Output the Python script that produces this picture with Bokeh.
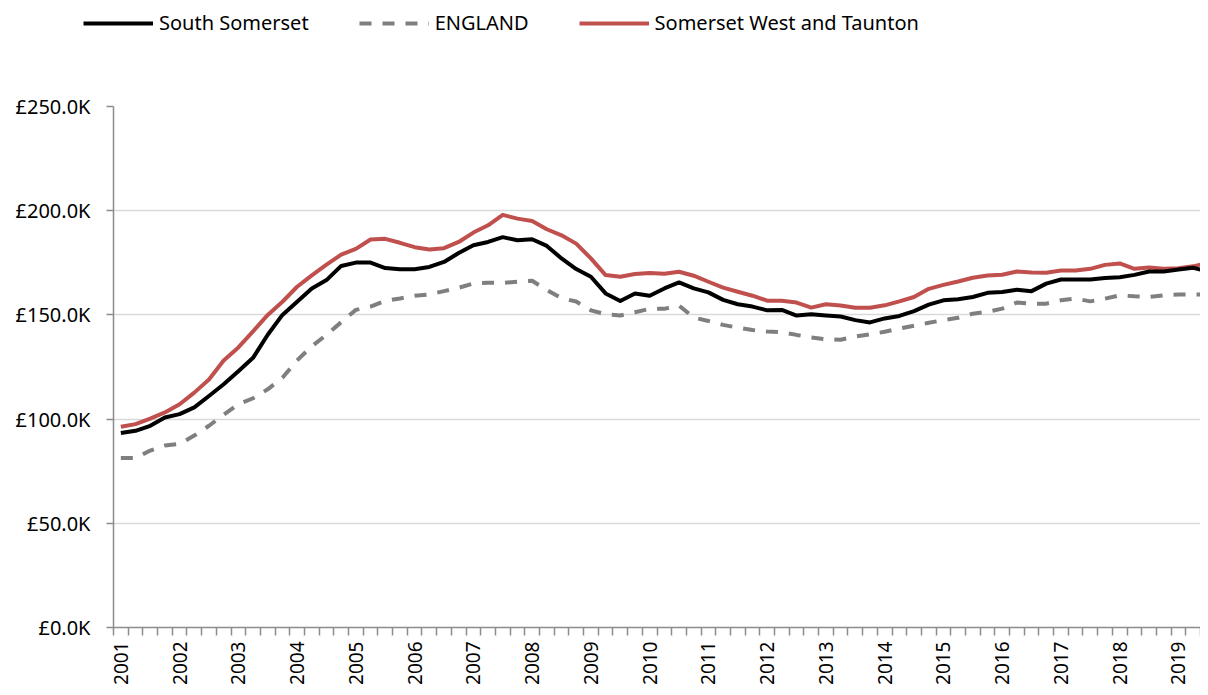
from bokeh.plotting import figure
from bokeh.models import (ColumnDataSource, Range1d, FixedTicker, Legend, LegendItem)
from bokeh.layouts import column
from bokeh.embed import file_html
from bokeh.resources import INLINE

# ---- data (quarterly, 2001 Q1 .. 2019 Q3), values in £K ----
years = [str(y) for y in range(2001, 2020)]

south_somerset = [
    93.3, 94.4, 96.8, 100.8, 102.4, 105.6, 111.1, 116.7, 123.0, 129.4,
    140.5, 150.0, 156.3, 162.7, 166.7, 173.5, 175.1, 175.1, 172.5, 171.9,
    171.9, 173.0, 175.4, 179.7, 183.4, 185.0, 187.3, 185.8, 186.3, 183.1,
    177.1, 172.0, 168.3, 160.3, 156.7, 160.3, 159.2, 162.7, 165.6, 162.7,
    160.8, 157.2, 155.1, 154.0, 152.2, 152.4, 149.7, 150.3, 149.7, 149.2,
    147.5, 146.4, 148.3, 149.5, 151.8, 154.9, 157.0, 157.5, 158.6, 160.6,
    161.0, 162.1, 161.4, 165.0, 167.0, 167.0, 167.0, 167.7, 168.1, 169.2,
    170.8, 170.8, 171.8, 172.6, 170.8,
]

england = [
    81.3, 81.3, 84.9, 87.3, 88.1, 92.1, 96.8, 102.1, 107.1, 110.0,
    114.3, 119.8, 128.2, 134.9, 140.5, 146.5, 152.4, 154.0, 156.7, 157.9,
    159.2, 159.8, 161.4, 163.0, 165.1, 165.4, 165.4, 165.9, 166.4, 161.9,
    158.0, 156.4, 152.2, 150.3, 149.7, 151.3, 152.9, 152.9, 154.5, 148.7,
    147.1, 145.2, 143.9, 142.8, 142.0, 141.7, 140.4, 139.2, 138.3, 138.1,
    139.6, 140.7, 141.9, 143.5, 144.8, 146.2, 147.5, 148.6, 150.6, 151.5,
    153.0, 155.9, 155.4, 155.4, 157.0, 157.8, 156.5, 157.8, 159.4, 158.9,
    158.6, 159.4, 159.8, 159.8, 159.7,
]

somerset_west_taunton = [
    96.3, 97.6, 100.2, 103.2, 107.1, 112.7, 119.0, 128.1, 134.4, 142.1,
    150.0, 156.3, 163.5, 169.0, 174.1, 178.9, 181.7, 186.2, 186.5, 184.6,
    182.5, 181.4, 182.0, 185.0, 189.5, 193.0, 198.0, 196.2, 195.1, 191.1,
    188.2, 184.2, 177.1, 169.1, 168.3, 169.6, 170.1, 169.7, 170.7, 168.8,
    165.9, 163.1, 161.1, 159.2, 156.8, 156.8, 155.9, 153.5, 155.1, 154.5,
    153.4, 153.4, 154.6, 156.5, 158.6, 162.5, 164.4, 166.0, 167.8, 168.9,
    169.3, 170.8, 170.3, 170.2, 171.3, 171.3, 172.1, 174.0, 174.7, 172.1,
    172.8, 172.1, 172.4, 173.3, 174.9,
]

series_names = ["South Somerset", "ENGLAND", "Somerset West and Taunton"]

y_ticks = [0, 50, 100, 150, 200, 250]
y_tick_labels = ["£0.0K", "£50.0K", "£100.0K", "£150.0K", "£200.0K", "£250.0K"]

n = len(south_somerset)
xs = [i + 0.5 for i in range(n)]

FONT = "Noto Sans"
AXIS_COLOR = "#8c8c8c"
STYLES = [
    dict(line_color="#000000", line_width=4, line_join="round"),
    dict(line_color="#7f7f7f", line_width=4, line_dash="12 11"),
    dict(line_color="#c0504d", line_width=4, line_join="round"),
]
COLS = ["ss", "en", "swt"]

LEGEND_H = 45

src = ColumnDataSource(dict(x=xs, ss=south_somerset, en=england, swt=somerset_west_taunton))

# ---------------- main chart ----------------
p = figure(width=1200, height=687 - LEGEND_H, output_backend="svg", toolbar_location=None,
           x_range=Range1d(0, 74.0), y_range=Range1d(0, 250),
           min_border_left=113, min_border_right=0, min_border_top=106 - LEGEND_H,
           min_border_bottom=55)
p.outline_line_color = None
p.background_fill_color = "white"

p.line("x", "en", source=src, **STYLES[1])
p.line("x", "swt", source=src, **STYLES[2])
p.line("x", "ss", source=src, **STYLES[0])

# x axis: year labels centred in the first quarter of each year, ticks at quarter boundaries
label_pos = [4 * k + 0.5 for k in range(len(years))]
p.xaxis.ticker = FixedTicker(ticks=label_pos, minor_ticks=list(range(0, n + 1)))
p.xaxis.major_label_overrides = {pos: lab for pos, lab in zip(label_pos, years)}
p.xaxis.major_tick_out = 0
p.xaxis.major_tick_in = 0
p.xaxis.minor_tick_out = 8
p.xaxis.minor_tick_in = 0
p.xaxis.minor_tick_line_color = AXIS_COLOR
p.xaxis.minor_tick_line_width = 1.5
p.xaxis.axis_line_color = AXIS_COLOR
p.xaxis.axis_line_width = 1.5
p.xaxis.major_label_orientation = 1.5707963
p.xaxis.major_label_standoff = 6
p.xaxis.major_label_text_font = FONT
p.xaxis.major_label_text_font_size = "19px"
p.xaxis.major_label_text_color = "#000000"

# y axis
p.yaxis.ticker = FixedTicker(ticks=y_ticks, minor_ticks=[])
p.yaxis.major_label_overrides = {t: l for t, l in zip(y_ticks, y_tick_labels)}
p.yaxis.major_tick_out = 7
p.yaxis.major_tick_in = 0
p.yaxis.major_tick_line_color = AXIS_COLOR
p.yaxis.major_tick_line_width = 1.5
p.yaxis.minor_tick_line_color = None
p.yaxis.axis_line_color = AXIS_COLOR
p.yaxis.axis_line_width = 1.5
p.yaxis.major_label_standoff = 16
p.yaxis.major_label_text_font = FONT
p.yaxis.major_label_text_font_size = "20px"
p.yaxis.major_label_text_color = "#000000"

p.xgrid.grid_line_color = None
p.ygrid.grid_line_color = "#d9d9d9"
p.ygrid.grid_line_width = 1.5

# ---------------- legend strip (own small figure, series lie outside its ranges) ----------------
lg = figure(width=1200, height=LEGEND_H, output_backend="svg", toolbar_location=None,
            x_axis_type=None, y_axis_type=None,
            x_range=Range1d(-2000, -1000), y_range=Range1d(-2000, -1000),
            min_border_left=0, min_border_right=0, min_border_top=0, min_border_bottom=0)
lg.outline_line_color = None
lg.grid.visible = False
items = []
for name, col, st in zip(series_names, COLS, STYLES):
    r = lg.line("x", col, source=src, **st)
    items.append(LegendItem(label=name, renderers=[r]))

legend = Legend(items=items, orientation="horizontal", location=(83, 9))
legend.glyph_width = 70
legend.glyph_height = 24
legend.label_standoff = 6
legend.spacing = 50
legend.padding = 0
legend.margin = 0
legend.border_line_color = None
legend.background_fill_alpha = 0
legend.label_text_font = FONT
legend.label_text_font_size = "20px"
legend.label_text_color = "#000000"
legend.label_height = 24
lg.add_layout(legend, "center")

# nest the strip in its own column so its frame is not aligned to the chart's frame
layout = column(column(lg), p, spacing=0)
open("out.html", "w").write(file_html(layout, INLINE))
